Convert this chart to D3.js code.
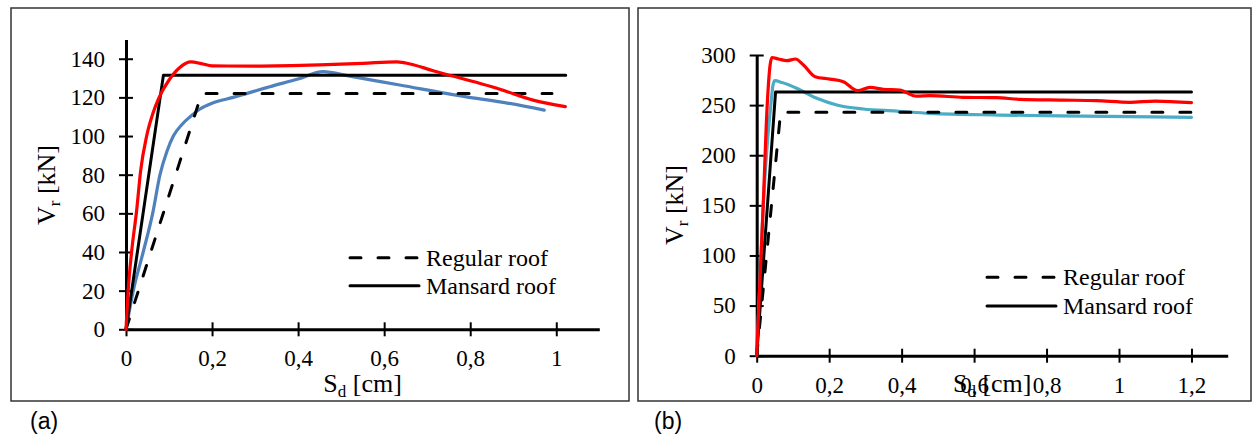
<!DOCTYPE html>
<html>
<head>
<meta charset="utf-8">
<script src="https://cdn.jsdelivr.net/npm/d3@7"></script>
<style>
body{margin:0;background:#fff;}
svg{display:block;}
.tick text{font-family:"Liberation Serif","Times New Roman",serif;font-size:23px;fill:#000;}
</style>
</head>
<body>
<div id="chart-area"></div>
<script>

// ---- panel (a) ----
var sdA_regular = [0, 0.176, 0.99];
var vrA_regular = [0, 122, 122];
var sdA_mansard = [0, 0.087, 1.022];
var vrA_mansard = [0, 131.5, 131.5];
var sdA_red = [0, 0.005, 0.013, 0.025, 0.034, 0.048, 0.063, 0.077, 0.1, 0.125, 0.151, 0.175, 0.2, 0.3, 0.45, 0.55, 0.629, 0.65, 0.714, 0.869, 0.946, 1.021];
var vrA_red = [0, 20, 40, 62, 82, 100, 112, 120, 129, 135.5, 138.4, 137.5, 136.3, 136.2, 136.8, 137.6, 138.4, 137.8, 133.8, 124.2, 118.6, 115.2];
var sdA_blue = [0, 0.017, 0.04, 0.062, 0.079, 0.095, 0.11, 0.13, 0.149, 0.172, 0.2, 0.249, 0.334, 0.4, 0.458, 0.52, 0.636, 0.791, 0.869, 0.972];
var vrA_blue = [0, 20, 40, 60, 80, 92, 100, 106, 110, 114, 117, 120, 125.5, 129.5, 133.3, 131, 126.4, 120.3, 117.7, 113.4];
var xTicksA = [0, 0.2, 0.4, 0.6, 0.8, 1];
var yTicksA = [0, 20, 40, 60, 80, 100, 120, 140];

// ---- panel (b) ----
var sdB_regular = [0, 0.066, 1.2];
var vrB_regular = [0, 243, 243];
var sdB_mansard = [0, 0.052, 1.2];
var vrB_mansard = [0, 263, 263];
var sdB_red = [0, 0.018, 0.029, 0.037, 0.042, 0.06, 0.083, 0.107, 0.129, 0.161, 0.202, 0.239, 0.279, 0.3125, 0.349, 0.395, 0.441, 0.478, 0.57, 0.662, 0.726, 0.846, 0.938, 1.03, 1.1, 1.2];
var vrB_red = [0, 150, 250, 290, 297.5, 296, 294.3, 296, 290, 278.4, 276, 273.4, 264.4, 267.8, 265.8, 265, 259, 259.4, 257.8, 257.4, 255.8, 255, 254.4, 252.8, 254, 252.4];
var sdB_blue = [0, 0.018, 0.03, 0.039, 0.045, 0.05, 0.07, 0.11, 0.166, 0.221, 0.294, 0.386, 0.478, 0.67, 0.9, 1.2];
var vrB_blue = [0, 150, 215, 250, 270, 274.4, 272.5, 266.8, 256.8, 250.1, 246.1, 244.1, 241.8, 240.1, 239, 237.8];
var xTicksB = [0, 0.2, 0.4, 0.6, 0.8, 1, 1.2];
var yTicksB = [0, 50, 100, 150, 200, 250, 300];

var legendNames = ["Regular roof", "Mansard roof"];

var serif = '"Liberation Serif","Times New Roman",serif';

var svg = d3.select("#chart-area")
    .append("svg")
    .attr("width", 1254)
    .attr("height", 435);

function zip(xs, ys){
    return xs.map(function(d, i){ return [d, ys[i]]; });
}

function drawPanel(p){
    svg.append("rect")
        .attr("x", p.frame[0])
        .attr("y", p.frame[1])
        .attr("width", p.frame[2] - p.frame[0])
        .attr("height", p.frame[3] - p.frame[1])
        .attr("fill", "none")
        .attr("stroke", "#333")
        .attr("stroke-width", 1.5);

    var x = d3.scaleLinear().domain(p.xDomain).range(p.xRange);
    var y = d3.scaleLinear().domain(p.yDomain).range(p.yRange);

    var fmt = function(d){ return String(d).replace(".", ","); };

    var gx = svg.append("g")
        .attr("transform", "translate(0," + p.yRange[0] + ")")
        .call(d3.axisBottom(x).tickValues(p.xTicks).tickSize(7).tickSizeOuter(0).tickFormat(fmt));
    gx.select(".domain").attr("stroke", "#000").attr("stroke-width", 3);
    gx.selectAll(".tick line").attr("y1", -7).attr("y2", 7).attr("stroke", "#000").attr("stroke-width", 2);
    gx.selectAll(".tick text").attr("y", 37).attr("dy", 0);

    var gy = svg.append("g")
        .attr("transform", "translate(" + p.xRange[0] + ",0)")
        .call(d3.axisLeft(y).tickValues(p.yTicks).tickSize(7).tickSizeOuter(0));
    gy.select(".domain").attr("stroke", "#000").attr("stroke-width", 3);
    gy.selectAll(".tick line").attr("x1", -7).attr("x2", 7).attr("stroke", "#000").attr("stroke-width", 2);
    gy.selectAll(".tick text").attr("x", -21);

    var straight = d3.line()
        .x(function(d){ return x(d[0]); })
        .y(function(d){ return y(d[1]); });
    var smooth = d3.line()
        .x(function(d){ return x(d[0]); })
        .y(function(d){ return y(d[1]); })
        .curve(d3.curveMonotoneX);

    svg.append("path")
        .attr("d", smooth(zip(p.sdBlue, p.vrBlue)))
        .attr("fill", "none")
        .attr("stroke", p.blueColor)
        .attr("stroke-width", 3.2)
        .attr("stroke-linecap", "round");

    svg.append("path")
        .attr("d", straight(zip(p.sdRegular, p.vrRegular)))
        .attr("fill", "none")
        .attr("stroke", "#000")
        .attr("stroke-width", 3)
        .attr("stroke-dasharray", "11,17")
        .attr("stroke-linecap", "round");

    svg.append("path")
        .attr("d", straight(zip(p.sdMansard, p.vrMansard)))
        .attr("fill", "none")
        .attr("stroke", "#000")
        .attr("stroke-width", 3)
        .attr("stroke-linecap", "round")
        .attr("stroke-linejoin", "round");

    svg.append("path")
        .attr("d", smooth(zip(p.sdRed, p.vrRed)))
        .attr("fill", "none")
        .attr("stroke", "#ff0000")
        .attr("stroke-width", 3.2)
        .attr("stroke-linecap", "round");

    // axis titles
    var xt = svg.append("text")
        .attr("x", (p.xRange[0] + p.xRange[1]) / 2)
        .attr("y", 392)
        .attr("text-anchor", "middle")
        .attr("font-family", serif)
        .attr("font-size", "26px");
    xt.append("tspan").text("S");
    xt.append("tspan").attr("font-size", "17px").attr("dy", 5).text("d");
    xt.append("tspan").attr("dy", -5).text(" [cm]");

    var yt = svg.append("text")
        .attr("transform", "translate(" + p.yTitle[0] + "," + p.yTitle[1] + ") rotate(-90)")
        .attr("text-anchor", "middle")
        .attr("font-family", serif)
        .attr("font-size", "26px");
    yt.append("tspan").text("V");
    yt.append("tspan").attr("font-size", "17px").attr("dy", 5).text("r");
    yt.append("tspan").attr("dy", -5).text(" [kN]");

    // legend
    legendNames.forEach(function(name, i){
        var ly = p.legend[1] + i * p.legend[2];
        svg.append("line")
            .attr("x1", p.legend[0])
            .attr("x2", p.legend[0] + 69)
            .attr("y1", ly)
            .attr("y2", ly)
            .attr("stroke", "#000")
            .attr("stroke-width", 3)
            .attr("stroke-linecap", "round")
            .attr("stroke-dasharray", i == 0 ? "11,17" : null);
        svg.append("text")
            .attr("x", p.legend[0] + 76)
            .attr("y", ly + 8)
            .attr("font-family", serif)
            .attr("font-size", "24px")
            .text(name);
    });

    svg.append("text")
        .attr("x", p.tag[0])
        .attr("y", p.tag[1])
        .attr("font-family", '"Liberation Sans",Arial,sans-serif')
        .attr("font-size", "23px")
        .text(p.tagText);
}

drawPanel({
    frame: [11, 8, 629, 401],
    xDomain: [0, 1.1], xRange: [126, 599.3],
    yDomain: [0, 150], yRange: [329.3, 39.4],
    xTicks: xTicksA, yTicks: yTicksA,
    sdRegular: sdA_regular, vrRegular: vrA_regular,
    sdMansard: sdA_mansard, vrMansard: vrA_mansard,
    sdRed: sdA_red, vrRed: vrA_red,
    sdBlue: sdA_blue, vrBlue: vrA_blue,
    blueColor: "#4f81bd",
    yTitle: [55, 185],
    legend: [350, 257.7, 28],
    tag: [30, 429], tagText: "(a)"
});

drawPanel({
    frame: [638, 8, 1251, 401],
    xDomain: [0, 1.3], xRange: [756.7, 1227.7],
    yDomain: [0, 300], yRange: [355.7, 55],
    xTicks: xTicksB, yTicks: yTicksB,
    sdRegular: sdB_regular, vrRegular: vrB_regular,
    sdMansard: sdB_mansard, vrMansard: vrB_mansard,
    sdRed: sdB_red, vrRed: vrB_red,
    sdBlue: sdB_blue, vrBlue: vrB_blue,
    blueColor: "#4bacc6",
    yTitle: [683, 205],
    legend: [987, 277.3, 28.7],
    tag: [654, 429], tagText: "(b)"
});

</script>
</body>
</html>
